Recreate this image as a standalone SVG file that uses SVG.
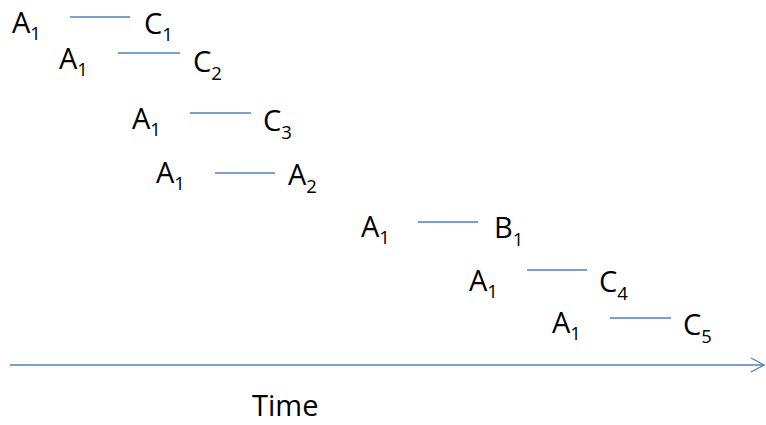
<svg xmlns="http://www.w3.org/2000/svg" width="766" height="425" viewBox="0 0 766 425">
<style>
text{font-family:"Open Sans","Liberation Sans",sans-serif;font-size:29px;fill:#000}
.s{font-size:18.5px}
.ln{stroke:#4f81bd;stroke-width:1.3;fill:none}
</style>
<defs>
<marker id="ah" markerWidth="16" markerHeight="16" refX="14" refY="8" orient="auto" markerUnits="userSpaceOnUse">
<path d="M1,1 L14,8 L1,15" fill="none" stroke="#4f81bd" stroke-width="1.3"/>
</marker>
</defs>
<rect width="766" height="425" fill="#fff"/>
<g id="n1"><text x="12" y="33">A<tspan class="s" dy="7">1</tspan></text><text x="144" y="34">C<tspan class="s" dy="7">1</tspan></text></g>
<g id="n2"><text x="59" y="69">A<tspan class="s" dy="7">1</tspan></text><text x="193" y="72">C<tspan class="s" dy="8">2</tspan></text></g>
<g id="n3"><text x="132" y="129">A<tspan class="s" dy="7">1</tspan></text><text x="263" y="131">C<tspan class="s" dy="8">3</tspan></text></g>
<g id="n4"><text x="156" y="183">A<tspan class="s" dy="7">1</tspan></text><text x="288" y="185">A<tspan class="s" dy="8">2</tspan></text></g>
<g id="n5"><text x="361" y="237">A<tspan class="s" dy="7">1</tspan></text><text x="494" y="238">B<tspan class="s" dy="8">1</tspan></text></g>
<g id="n6"><text x="469" y="291">A<tspan class="s" dy="7">1</tspan></text><text x="599" y="292">C<tspan class="s" dy="8">4</tspan></text></g>
<g id="n7"><text x="552" y="333">A<tspan class="s" dy="7">1</tspan></text><text x="683" y="335">C<tspan class="s" dy="8">5</tspan></text></g>
<g id="axis-label"><text x="252" y="416">Time</text></g>
<g id="connectors">
<line class="ln" x1="70" y1="17" x2="130" y2="17"/>
<line class="ln" x1="118" y1="53" x2="180" y2="53"/>
<line class="ln" x1="190" y1="113" x2="251" y2="113"/>
<line class="ln" x1="215" y1="173" x2="275" y2="173"/>
<line class="ln" x1="418" y1="222" x2="478" y2="222"/>
<line class="ln" x1="527" y1="270" x2="587" y2="270"/>
<line class="ln" x1="610" y1="318" x2="671" y2="318"/>
<line class="ln" x1="10" y1="365" x2="764" y2="365" marker-end="url(#ah)"/>
</g>
</svg>
